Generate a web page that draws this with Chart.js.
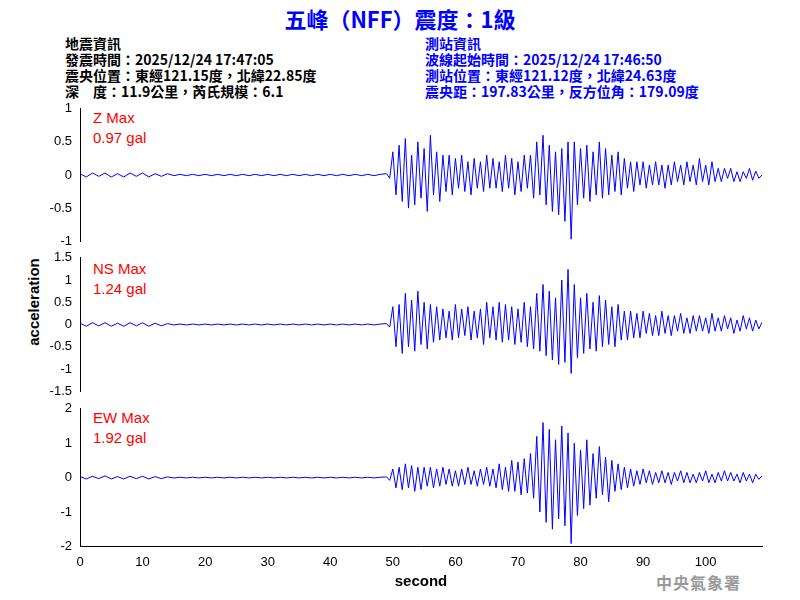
<!DOCTYPE html>
<html>
<head>
<meta charset="utf-8">
<script src="https://cdn.jsdelivr.net/npm/chart.js@4"></script>
<style>
  body { margin: 0; width: 800px; height: 600px; background: #fff; position: relative; overflow: hidden;
         font-family: "Noto Sans CJK TC", "Liberation Sans", sans-serif; }
  .abs { position: absolute; white-space: nowrap; }
  #title { left: 0; width: 800px; top: 2px; text-align: center; color: #0000ff; font-size: 22px; font-weight: bold; }
  .info { font-size: 14px; line-height: 16px; font-weight: bold; }
  .lbl { color: #ff0000; font-size: 15px; line-height: 20px; font-family: "Liberation Sans", Arial, sans-serif; }
  canvas { position: absolute; left: 0; }
</style>
</head>
<body>
<div id="title" class="abs">五峰（NFF）震度：1級</div>
<div class="abs info" style="left:65px;top:35px;color:#000">地震資訊<br>發震時間：2025/12/24 17:47:05<br>震央位置：東經121.15度，北緯22.85度<br>深　度：11.9公里，芮氏規模：6.1</div>
<div class="abs info" style="left:425px;top:35px;color:#0000ff">測站資訊<br>波線起始時間：2025/12/24 17:46:50<br>測站位置：東經121.12度，北緯24.63度<br>震央距：197.83公里，反方位角：179.09度</div>
<div class="abs lbl" style="left:93px;top:108px">Z Max<br>0.97 gal</div>
<div class="abs lbl" style="left:93px;top:259px">NS Max<br>1.24 gal</div>
<div class="abs lbl" style="left:93px;top:408px">EW Max<br>1.92 gal</div>
<div class="abs" style="top:302px;transform:translate(-50%,-50%) rotate(-90deg);transform-origin:center;left:33px;font:bold 15px 'Liberation Sans',Arial;">acceleration</div>
<div class="abs" style="left:656px;top:570px;color:#999;font-size:16px;font-weight:bold;font-family:'Noto Sans CJK TC';letter-spacing:1px">中央氣象署</div>
<canvas id="cz"></canvas>
<canvas id="cns"></canvas>
<canvas id="cew"></canvas>
<script>
// quiet part: one sample per second, 0..48 s
const quietZ  = [0.02,-0.03,0.03,-0.02,0.03,-0.03,0.02,-0.03,0.03,-0.02,0.03,-0.03,0.02,-0.02,0.02,-0.01,
                 0.01,-0.01,0.01,-0.01,0.01,-0.01,0.01,-0.01,0.01,-0.01,0.01,-0.01,0.01,-0.01,0.01,-0.01,
                 0.01,-0.01,0.01,-0.01,0.01,-0.01,0.01,-0.01,0.01,-0.01,0.01,-0.01,0.01,-0.01,0.01,-0.01,0.01];
const quietNS = [0.03,-0.04,0.04,-0.03,0.04,-0.04,0.03,-0.04,0.04,-0.03,0.04,-0.04,0.03,-0.03,0.02,-0.01,
                 0.01,-0.01,0.01,-0.01,0.01,-0.01,0.01,-0.01,0.01,-0.01,0.01,-0.01,0.01,-0.01,0.01,-0.01,
                 0.01,-0.01,0.01,-0.01,0.01,-0.01,0.01,-0.01,0.01,-0.01,0.01,-0.01,0.01,-0.01,0.01,-0.01,0.01];
const quietEW = [0.03,-0.04,0.04,-0.03,0.05,-0.04,0.03,-0.04,0.04,-0.03,0.04,-0.04,0.03,-0.03,0.02,-0.01,
                 0.01,-0.01,0.01,-0.01,0.01,-0.01,0.01,-0.01,0.01,-0.01,0.01,-0.01,0.01,-0.01,0.01,-0.01,
                 0.01,-0.01,0.01,-0.01,0.01,-0.01,0.01,-0.01,0.01,-0.01,0.01,-0.01,0.01,-0.01,0.01,-0.01,0.01];

// active part: one sample per 0.5 s, 49..109 s
const activeZ = [
  0.02,-0.05,0.35,-0.3,0.45,-0.4,0.55,-0.5,0.3,-0.45,
  0.5,-0.35,0.4,-0.55,0.6,-0.3,0.35,-0.4,0.3,-0.25,
  0.3,-0.3,0.25,-0.2,0.3,-0.25,0.2,-0.3,0.25,-0.2,
  0.2,-0.25,0.3,-0.2,0.25,-0.2,0.2,-0.25,0.3,-0.2,
  0.25,-0.3,0.2,-0.25,0.3,-0.2,0.3,-0.35,0.5,-0.3,
  0.6,-0.45,0.45,-0.55,0.35,-0.6,0.4,-0.7,0.5,-0.97,
  0.5,-0.45,0.4,-0.35,0.45,-0.4,0.35,-0.3,0.5,-0.35,
  0.4,-0.3,0.3,-0.25,0.35,-0.3,0.25,-0.2,0.2,-0.25,
  0.2,-0.15,0.2,-0.2,0.15,-0.15,0.2,-0.15,0.15,-0.2,
  0.15,-0.15,0.2,-0.1,0.15,-0.15,0.2,-0.1,0.15,-0.15,
  0.25,-0.1,0.15,-0.15,0.2,-0.1,0.1,-0.1,0.1,-0.05,
  0.1,-0.1,0.05,-0.1,0.05,-0.05,0.1,-0.08,0.06,-0.05,
  0.0];
const activeNS = [
  0.02,-0.06,0.4,-0.5,0.45,-0.65,0.7,-0.5,0.55,-0.6,
  0.75,-0.45,0.5,-0.55,0.45,-0.4,0.4,-0.35,0.35,-0.3,
  0.3,-0.35,0.45,-0.3,0.35,-0.25,0.4,-0.35,0.3,-0.3,
  0.35,-0.45,0.5,-0.3,0.4,-0.35,0.5,-0.4,0.45,-0.35,
  0.4,-0.45,0.35,-0.4,0.5,-0.5,0.4,-0.55,0.7,-0.6,
  0.9,-0.7,0.75,-0.8,0.6,-0.9,1.0,-0.85,1.24,-1.1,
  0.9,-0.75,0.6,-0.65,0.7,-0.55,0.5,-0.6,0.65,-0.5,
  0.55,-0.45,0.4,-0.5,0.45,-0.35,0.3,-0.35,0.3,-0.3,
  0.25,-0.3,0.3,-0.2,0.25,-0.25,0.2,-0.25,0.3,-0.2,
  0.2,-0.25,0.2,-0.15,0.25,-0.2,0.15,-0.2,0.2,-0.15,
  0.2,-0.15,0.15,-0.2,0.25,-0.15,0.15,-0.15,0.2,-0.1,
  0.15,-0.2,0.1,-0.15,0.2,-0.1,0.15,-0.15,0.1,-0.1,
  0.05];
const activeEW = [
  0.02,-0.08,0.25,-0.3,0.3,-0.35,0.4,-0.3,0.35,-0.4,
  0.3,-0.35,0.3,-0.25,0.3,-0.3,0.25,-0.25,0.3,-0.2,
  0.25,-0.25,0.2,-0.25,0.25,-0.2,0.3,-0.2,0.2,-0.25,
  0.25,-0.2,0.3,-0.25,0.25,-0.3,0.4,-0.35,0.3,-0.4,
  0.5,-0.4,0.45,-0.5,0.55,-0.45,0.7,-0.6,1.2,-1.0,
  1.6,-1.3,1.4,-1.5,1.1,-1.2,1.5,-1.4,1.3,-1.92,
  1.0,-1.1,0.8,-0.9,1.1,-0.8,0.7,-0.6,0.9,-0.5,
  0.6,-0.7,0.5,-0.4,0.4,-0.35,0.3,-0.3,0.25,-0.25,
  0.2,-0.2,0.25,-0.15,0.2,-0.2,0.15,-0.15,0.2,-0.15,
  0.15,-0.2,0.15,-0.1,0.2,-0.15,0.15,-0.15,0.1,-0.15,
  0.15,-0.1,0.2,-0.15,0.1,-0.15,0.15,-0.1,0.2,-0.1,
  0.15,-0.1,0.1,-0.15,0.15,-0.1,0.1,-0.15,0.1,-0.05,
  0.05];

const X_MAX = 109;

function toPoints(quiet, active) {
  const pts = quiet.map((v, i) => ({ x: i, y: v }));
  active.forEach((v, i) => pts.push({ x: 49 + i * 0.5, y: v }));
  return pts;
}

function makePanel(id, top, height, range, step, quiet, active, showX) {
  const canvas = document.getElementById(id);
  const padTop = 10;
  const padBottom = showX ? 0 : 10;
  const h = height + padTop + (showX ? 48 : padBottom);
  canvas.style.top = (top - padTop) + 'px';
  canvas.style.width = '770px';
  canvas.style.height = h + 'px';
  canvas.width = 770; canvas.height = h;
  new Chart(canvas, {
    type: 'line',
    data: { datasets: [{
      data: toPoints(quiet, active),
      borderColor: '#0000ff', borderWidth: 1, pointRadius: 0, tension: 0,
    }]},
    options: {
      responsive: false, animation: false,
      layout: { padding: { top: padTop, bottom: padBottom, right: 8, left: 0 } },
      plugins: { legend: { display: false }, tooltip: { enabled: false } },
      scales: {
        x: {
          type: 'linear', min: 0, max: X_MAX, display: showX,
          ticks: { stepSize: 10, color: '#000', font: { size: 13, family: 'Liberation Sans' },
                   callback: v => v <= 100 ? v : '' , maxRotation: 0 },
          grid: { display: false, drawTicks: true, tickLength: 5 },
          border: { color: '#000' },
          title: { display: showX, text: 'second', color: '#000',
                   font: { size: 15, weight: 'bold', family: 'Liberation Sans' }, padding: 0 },
        },
        y: {
          min: -range, max: range,
          afterFit: s => { s.width = 80; },
          ticks: { stepSize: step, color: '#000', font: { size: 13, family: 'Liberation Sans' },
                   callback: v => String(Math.round(v * 10) / 10) },
          grid: { display: false, drawTicks: true, tickLength: 5 },
          border: { color: '#000' },
        },
      },
    },
  });
}

makePanel('cz', 108, 134, 1, 0.5, quietZ, activeZ, false);
makePanel('cns', 257, 135, 1.5, 0.5, quietNS, activeNS, false);
makePanel('cew', 408, 135, 2, 1, quietEW, activeEW, true);
</script>
</body>
</html>
